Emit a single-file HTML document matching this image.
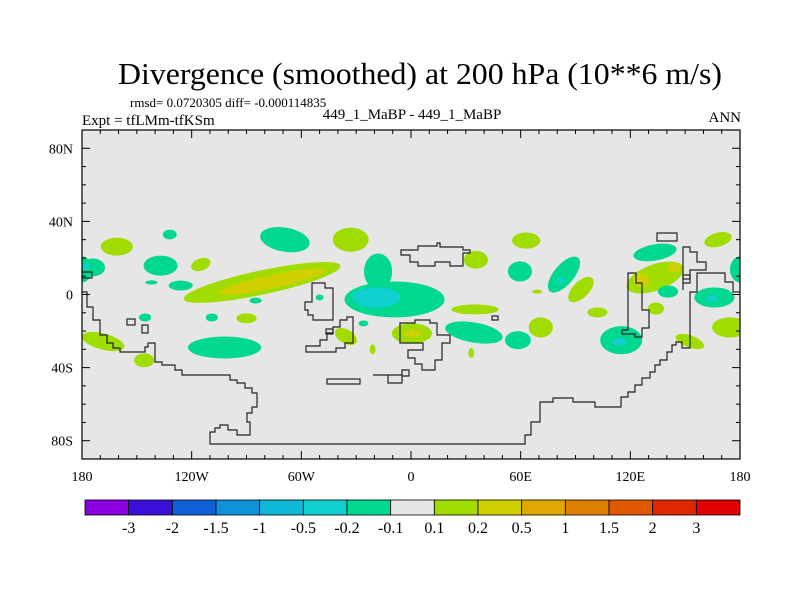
<!DOCTYPE html>
<html><head><meta charset="utf-8"><style>
html,body{margin:0;padding:0;background:#fff;}
svg{display:block;font-family:"Liberation Serif",serif;}
</style></head><body>
<svg id="chart" width="800" height="600" viewBox="0 0 800 600">
<text x="420" y="84" font-size="31" text-anchor="middle" textLength="604" lengthAdjust="spacingAndGlyphs">Divergence (smoothed) at 200 hPa (10**6 m/s)</text>
<text x="130" y="107" font-size="13">rmsd= 0.0720305 diff= -0.000114835</text>
<text x="82" y="125" font-size="15">Expt = tfLMm-tfKSm</text>
<text x="412" y="119" font-size="15" text-anchor="middle">449_1_MaBP - 449_1_MaBP</text>
<text x="741" y="122" font-size="15" text-anchor="end">ANN</text>
<defs><clipPath id="plotclip"><rect x="82" y="130" width="658" height="329"/></clipPath></defs>
<rect x="82" y="130" width="658" height="329" fill="#e6e6e6"/>
<g id="blobs" clip-path="url(#plotclip)"></g>
<g clip-path="url(#plotclip)" fill="none" stroke="#222" stroke-width="1.2">
<polyline points="82,292 87,292 87,307 93,307 93,320 100,320 100,335 107,335 107,343 113,343 113,348 120,348 120,352 145,352 145,347 148,347 148,343 155,343 155,362 162,362 162,365 175,365 175,370 182,370 182,375 230,375 230,380 237,380 237,383 245,383 245,388 252,388 252,393 257,393 257,407 252,407 252,413 247,413 247,422 250,422 250,435 237,435 237,430 228,430 228,425 220,425 220,428 215,428 215,432 210,432 210,444 525,444 525,435 531,435 531,422 540,422 540,402 553,402 553,398 573,398 573,402 595,402 595,407 621,407 621,397 628,397 628,392 635,392 635,385 642,385 642,378 650,378 650,372 655,372 655,365 660,365 660,360 667,360 667,352 672,352 672,345 676,345 676,342 682,342 682,348 690,348 690,292 697,292 697,273 725,273 725,282 733,282 733,292 740,292"/>
<polygon points="82,272 92,272 92,278 82,278"/>
<rect x="127" y="319" width="8" height="6"/>
<rect x="142" y="325" width="6" height="8"/>
<polygon points="312,283 325,283 325,288 333,288 333,320 313,320 313,315 308,315 308,310 305,310 305,302 312,302"/>
<polygon points="306,352 306,346 320,346 320,340 327,340 327,333 333,333 333,327 340,327 340,320 347,320 347,317 353,317 353,343 345,343 345,348 336,348 336,352"/>
<rect x="326" y="329" width="7" height="5"/>
<rect x="327" y="379" width="33" height="5"/>
<polygon points="373,375 388,375 388,383 402,383 402,376 409,376 409,370 402,370 402,375"/>
<polygon points="401,250 401,255 410,255 410,262 418,262 418,266 435,266 435,262 450,262 450,266 463,266 463,253 470,253 470,250 463,250 463,247 440,247 440,243 437,243 437,246 418,246 418,250"/>
<polygon points="400,323 400,343 423,343 423,350 408,350 408,358 415,358 415,364 422,364 422,370 435,370 435,360 442,360 442,343 450,343 450,335 437,335 437,323 430,323 430,320 415,320 415,323"/>
<rect x="492" y="316" width="6" height="4"/>
<rect x="657" y="233" width="20" height="8"/>
<polygon points="628,273 636,273 636,283 642,283 642,310 649,310 649,328 642,328 642,337 635,337 635,334 622,334 622,330 628,330"/>
<polyline points="683,290 683,247 690,247 690,252 697,252 697,262 706,262 706,270 690,270 690,283 683,283"/>
<rect x="683" y="275" width="7" height="4"/>
</g>
<g id="axes"></g>
<rect x="82" y="130" width="658" height="329" fill="none" stroke="#000" stroke-width="1.2"/>
<g id="colorbar"></g>
</svg>
<script>
const blobLon=[-161,-132,-174,-178,-137,-115,-142,-126,-69,-33,-81.5,-76,-9,-18,-19,-85,-109,-90,-145.5,-102,-168.5,-146,-50,-35.6,-26,0.5,1,-21,63,35.5,59.6,83.7,82,93,69,35,34.4,58.5,71,102,33,115,114,133.5,133.5,126,144,140.6,134,168,180,-180,166,165,174.5,152.6];
const blobLat=[26.2,32.8,14.8,15.3,15.8,16.4,6.6,4.9,30,30,6.6,7.1,-2.7,12.6,-1.6,-3.3,-12.6,-13,-12.6,-29,-25.7,-36,-1.6,-23,-15.8,-21.3,-21.3,-30,29.5,19,12.6,10.9,7.7,2.7,1.6,-8.2,-20.8,-25,-18,-9.8,-32,-25,-26,23,9.3,7.7,14.8,1.6,-7.7,30,13.7,13.7,-1.6,-2.2,-18,-25.7];
const blobRx=[8.8,3.8,6.6,2.2,9.3,5.5,3.3,6.6,13.7,9.8,43.8,30,27.4,7.7,13.1,3.3,3.3,5.5,3.3,20,12,5.5,2.2,6.6,2.7,11,4.4,1.6,7.7,6.6,6.6,12,2.2,8.8,2.7,13,15.9,7.1,6.6,5.5,1.6,11.5,3.8,12,16.4,4.4,3.8,5.5,4.4,7.7,5.5,5.5,11,3.3,9.8,8.2];
const blobRy=[4.9,2.7,4.9,1.6,5.5,3.3,1.1,2.7,6.6,6.6,6.6,3.6,9.8,9.8,5.5,1.6,2.2,2.7,2.2,6,4.4,3.8,1.6,3.8,1.6,5.5,2.2,2.7,4.4,4.9,5.5,5.5,1.6,4.4,1.1,2.7,5.5,4.9,5.5,2.7,2.7,7.7,2.2,4.4,7.1,3.8,2.7,3.3,3.3,3.8,7.1,7.1,5.5,1.6,5.5,3.3];
const blobRot=[0,0,0,0,0,-20,0,0,10,0,-12,-12,0,0,0,0,0,0,0,0,15,0,0,30,0,0,0,0,0,0,0,-50,0,-45,0,0,10,0,0,0,0,0,0,-10,-20,0,0,0,0,-15,0,0,0,0,0,20];
const blobVal=[0.15,-0.15,-0.15,-0.3,-0.15,0.15,-0.15,-0.15,-0.15,0.15,0.15,0.3,-0.15,-0.15,-0.3,-0.15,-0.15,0.15,-0.15,-0.15,0.15,0.15,-0.15,0.15,-0.15,0.15,0.3,0.15,0.15,0.15,-0.15,-0.15,-0.3,0.15,0.15,0.15,-0.15,-0.15,0.15,0.15,0.15,-0.15,-0.3,-0.15,0.15,0.3,0.3,-0.15,0.15,0.15,-0.15,-0.15,-0.15,-0.3,0.15,0.15];
const levels=[-3,-2,-1.5,-1,-0.5,-0.2,-0.1,0.1,0.2,0.5,1,1.5,2,3];
const levelLabels=["-3","-2","-1.5","-1","-0.5","-0.2","-0.1","0.1","0.2","0.5","1","1.5","2","3"];
const colors=["#8a00e0","#3a10d8","#1060d8","#1090d8","#10b8d8","#10d0d0","#00d890","#e6e6e6","#a0dc00","#d0d000","#e0a800","#e08000","#e05800","#e02800","#e00000"];
const latTicks=[80,40,0,-40,-80];
const latLabels=["80N","40N","0","40S","80S"];
const lonTicks=[-180,-120,-60,0,60,120,180];
const lonLabels=["180","120W","60W","0","60E","120E","180"];

const X0=82,W=658,Y0=130,H=329;
const xS=lon=>X0+(lon+180)/360*W;
const yS=lat=>Y0+(90-lat)/180*H;
const kx=W/360,ky=H/180;
const NS="http://www.w3.org/2000/svg";
function colorFor(v){let i=0;while(i<levels.length&&v>levels[i])i++;return colors[i];}
const g=document.getElementById('blobs');
const order=blobVal.map((v,i)=>i).sort((a,b)=>Math.abs(blobVal[a])-Math.abs(blobVal[b]));
order.forEach(i=>{
  const e=document.createElementNS(NS,'ellipse');
  const cx=xS(blobLon[i]),cy=yS(blobLat[i]);
  e.setAttribute('cx',cx);e.setAttribute('cy',cy);
  e.setAttribute('rx',blobRx[i]*kx);e.setAttribute('ry',blobRy[i]*ky);
  e.setAttribute('transform','rotate('+blobRot[i]+' '+cx+' '+cy+')');
  e.setAttribute('fill',colorFor(blobVal[i]));
  
  
  g.appendChild(e);
});
const ax=document.getElementById('axes');
function addLine(x1,y1,x2,y2){const l=document.createElementNS(NS,'line');l.setAttribute('x1',x1);l.setAttribute('y1',y1);l.setAttribute('x2',x2);l.setAttribute('y2',y2);l.setAttribute('stroke','#000');l.setAttribute('stroke-width','1');


ax.appendChild(l);}
function addText(x,y,s,anchor,name){const t=document.createElementNS(NS,'text');t.setAttribute('x',x);t.setAttribute('y',y);t.setAttribute('font-size','14');t.setAttribute('text-anchor',anchor);t.textContent=s;


ax.appendChild(t);}
for(let lat=-80;lat<=80;lat+=10){const y=yS(lat);const L=lat%40===0?8:4;addLine(X0,y,X0+L,y);addLine(X0+W,y,X0+W-L,y);}
for(let lon=-170;lon<=170;lon+=10){const x=xS(lon);const L=lon%60===0?8:4;addLine(x,Y0+H,x,Y0+H-L);addLine(x,Y0,x,Y0+L);}
latTicks.forEach((v,i)=>addText(73,yS(v)+5,latLabels[i],'end','lat-label'));
lonTicks.forEach((v,i)=>addText(xS(v),481,lonLabels[i],'middle','lon-label'));
const cb=document.getElementById('colorbar');
const cbX=85,cbW=655,cbY=500,cbH=15,bw=cbW/colors.length;
colors.forEach((c,i)=>{const r=document.createElementNS(NS,'rect');r.setAttribute('x',cbX+i*bw);r.setAttribute('y',cbY);r.setAttribute('width',bw);r.setAttribute('height',cbH);r.setAttribute('fill',c);r.setAttribute('stroke','#000');r.setAttribute('stroke-width','0.8');


cb.appendChild(r);});
levelLabels.forEach((s,i)=>{const t=document.createElementNS(NS,'text');t.setAttribute('x',cbX+(i+1)*bw);t.setAttribute('y',533);t.setAttribute('font-size','16');t.setAttribute('text-anchor','middle');t.textContent=s;


cb.appendChild(t);});
</script>
</body></html>
